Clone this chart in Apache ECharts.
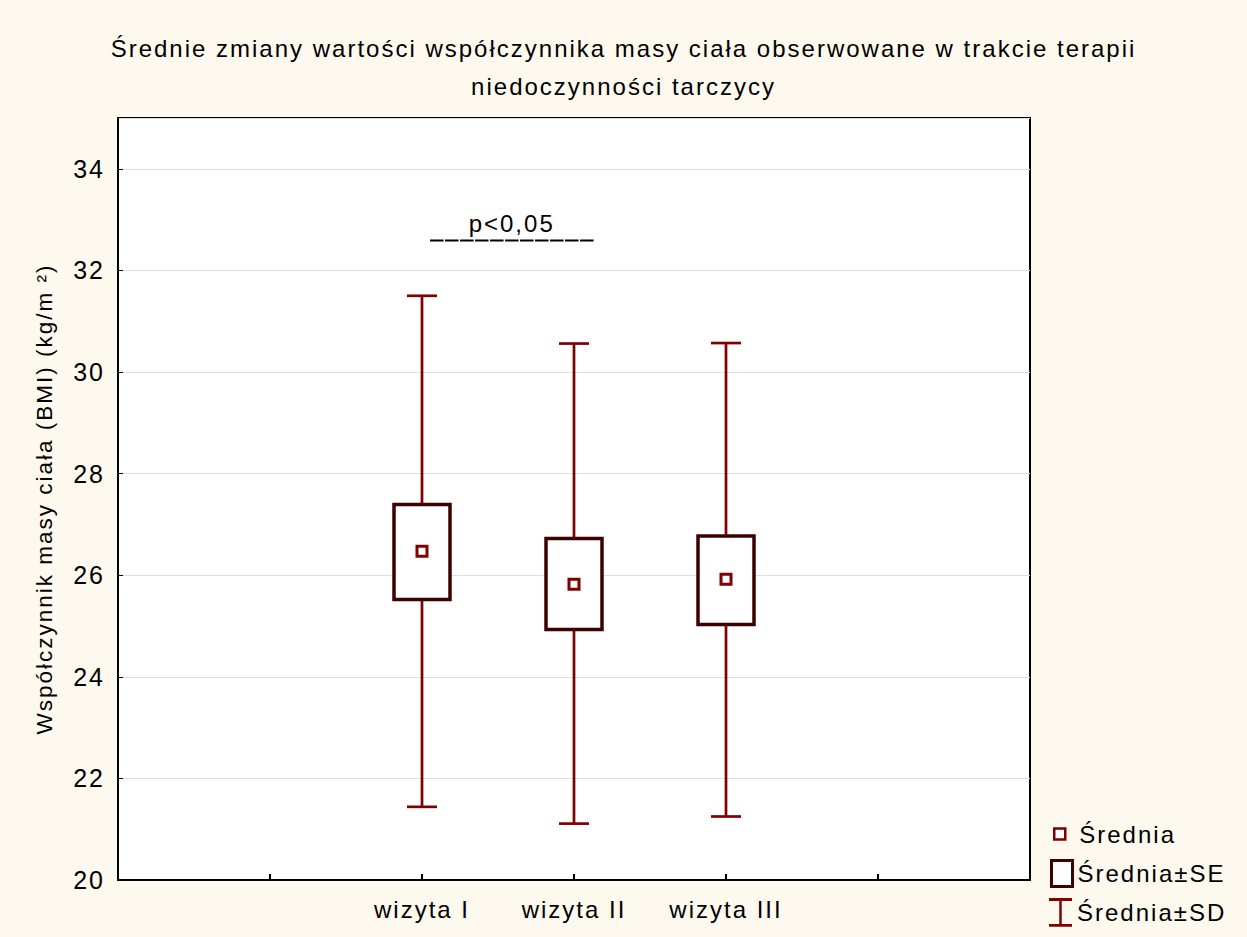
<!DOCTYPE html>
<html><head><meta charset="utf-8">
<script src="https://cdn.jsdelivr.net/npm/echarts@6/dist/echarts.min.js"></script>
<style>
html,body{margin:0;padding:0;background:#FDF9EE}
#c{width:1247px;height:937px}
#c svg text{letter-spacing:2px}
</style>
</head><body><div id="c"></div>
<script>
// ---- data ----
const categories = ['wizyta I', 'wizyta II', 'wizyta III'];
const meanValues = [26.47, 25.82, 25.92];
const seLow = [25.52, 24.93, 25.03];
const seHigh = [27.39, 26.72, 26.77];
const sdLow = [21.44, 21.11, 21.25];
const sdHigh = [31.50, 30.56, 30.57];
const yMin = 20, yMax = 35, yStep = 2;
const titleLines = ['Średnie zmiany wartości współczynnika masy ciała obserwowane w trakcie terapii', 'niedoczynności tarczycy'];
const yAxisTitle = 'Współczynnik masy ciała (BMI) (kg/m ²)';
const legendNames = ['Średnia', 'Średnia±SE', 'Średnia±SD'];
const pText = 'p<0,05';
// significance annotation: text anchor and underline span (x in slot units, y in BMI units)
const pTextAt = [2.59, 32.92];
const pLineFrom = [2.053, 32.59];
const pLineTo = [3.132, 32.59];

// ---- layout helpers ----
const slotOffset = 2;      // empty slots left of first category
const slotCount = 6;
const font = 'Liberation Sans, Arial, sans-serif';
const dark = '#800000';
const boxCol = '#3f0000';

const xs = categories.map((c, i) => i + slotOffset);
const sdData = xs.map((x, i) => [x, sdLow[i], sdHigh[i]]);
const seData = xs.map((x, i) => [x, seLow[i], seHigh[i]]);
const meanData = xs.map((x, i) => [x, meanValues[i]]);
const annotData = [[pTextAt[0], pTextAt[1], pLineFrom[0], pLineFrom[1], pLineTo[0], pLineTo[1]]];

const chart = echarts.init(document.getElementById('c'), null, {renderer: 'svg'});

const sdRender = (params, api) => {
  const x = api.value(0);
  const lo = api.coord([x, api.value(1)]);
  const hi = api.coord([x, api.value(2)]);
  const hw = 15;
  const style = {stroke: dark, lineWidth: 2.7};
  return {type: 'group', children: [
    {type: 'line', shape: {x1: lo[0], y1: lo[1], x2: hi[0], y2: hi[1]}, style},
    {type: 'line', shape: {x1: lo[0] - hw, y1: lo[1], x2: lo[0] + hw, y2: lo[1]}, style},
    {type: 'line', shape: {x1: hi[0] - hw, y1: hi[1], x2: hi[0] + hw, y2: hi[1]}, style}
  ]};
};
const seRender = (params, api) => {
  const x = api.value(0);
  const lo = api.coord([x, api.value(1)]);
  const hi = api.coord([x, api.value(2)]);
  const hw = 28;
  return {type: 'rect', shape: {x: lo[0] - hw, y: hi[1], width: 2 * hw, height: lo[1] - hi[1]},
    style: {fill: '#fff', stroke: boxCol, lineWidth: 3.5}};
};
const annotRender = (params, api) => {
  const p = api.coord([api.value(0), api.value(1)]);
  const a = api.coord([api.value(2), api.value(3)]);
  const b = api.coord([api.value(4), api.value(5)]);
  return {type: 'group', children: [
    {type: 'text', x: p[0], y: p[1],
      style: {text: pText, fill: '#000', fontSize: 24, fontFamily: font, align: 'center', verticalAlign: 'middle'}},
    {type: 'line', shape: {x1: a[0], y1: a[1], x2: b[0], y2: b[1]},
      style: {stroke: '#000', lineWidth: 2, lineDash: [13.5, 1.5]}}
  ]};
};

const labelText = {fontFamily: font, fontSize: 24, color: '#000'};

const option = {
  backgroundColor: '#FDF9EE',
  animation: false,
  title: {
    text: titleLines.join('\n'),
    left: 'center', top: 24,
    textStyle: {fontFamily: font, fontSize: 24, fontWeight: 'normal', color: '#000', lineHeight: 38}
  },
  grid: {left: 118, right: 217, top: 118, bottom: 57, show: true, backgroundColor: '#fff', borderColor: '#000', borderWidth: 2, containLabel: false},
  xAxis: {
    type: 'value', min: 0, max: slotCount, interval: 1,
    axisLine: {show: true, lineStyle: {color: '#000', width: 2}},
    axisTick: {show: true, inside: true, length: 6, lineStyle: {color: '#000', width: 2}},
    splitLine: {show: false},
    axisLabel: {margin: 17, ...labelText, formatter: v => categories[v - slotOffset] || ''}
  },
  yAxis: {
    type: 'value', min: yMin, max: yMax, interval: yStep,
    name: yAxisTitle, nameLocation: 'middle', nameGap: 62,
    nameTextStyle: {fontFamily: font, fontSize: 22.5, color: '#000'},
    axisLine: {show: true, lineStyle: {color: '#000', width: 2}},
    axisTick: {show: true, inside: true, length: 5, lineStyle: {color: '#000'}},
    splitLine: {show: true, lineStyle: {color: '#dedede', width: 1}},
    axisLabel: {margin: 13, showMaxLabel: false, ...labelText, fontSize: 25}
  },
  legend: [
    {data: [{name: legendNames[0], icon: 'rect', itemStyle: {color: '#fff', borderColor: dark, borderWidth: 2.5}}],
      left: 1053, top: 822, padding: 0, itemWidth: 11, itemHeight: 11,
      textStyle: {...labelText, padding: [0, 0, 0, 9]}, selectedMode: false},
    {data: [{name: legendNames[1], icon: 'rect', itemStyle: {color: '#fff', borderColor: boxCol, borderWidth: 3}}],
      left: 1050, top: 859, padding: 0, itemWidth: 21, itemHeight: 26,
      textStyle: {...labelText}, selectedMode: false},
    {data: [{name: legendNames[2], icon: 'path://M0,0 H24 V3 H13.3 V27 H24 V30 H0 V27 H10.7 V3 H0 Z', itemStyle: {color: dark, borderWidth: 0}}],
      left: 1049, top: 898, padding: 0, itemWidth: 23, itemHeight: 29,
      textStyle: {...labelText}, selectedMode: false}
  ],
  series: [
    {name: legendNames[2], type: 'custom', renderItem: sdRender, data: sdData, itemStyle: {color: dark}, z: 2},
    {name: legendNames[1], type: 'custom', renderItem: seRender, data: seData, itemStyle: {color: '#fff', borderColor: boxCol}, z: 3},
    {name: legendNames[0], type: 'scatter', data: meanData, symbol: 'rect', symbolSize: 10,
      itemStyle: {color: '#fff', borderColor: dark, borderWidth: 3, opacity: 1}, z: 4},
    {name: 'annot', type: 'custom', renderItem: annotRender, data: annotData, silent: true, z: 5}
  ]
};
chart.setOption(option);
</script>
</body></html>
